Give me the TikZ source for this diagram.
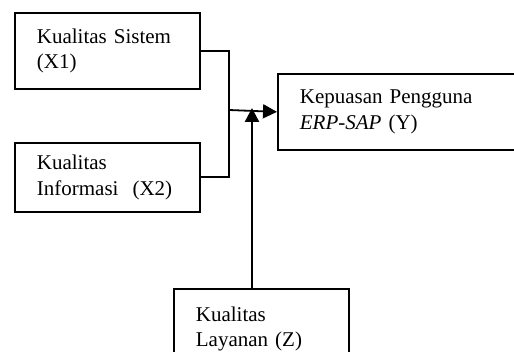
\documentclass[tikz,border=0pt]{standalone}
\usepackage{fontspec}
\setmainfont{Liberation Serif}
\usetikzlibrary{arrows.meta}

\begin{document}
\begin{tikzpicture}[x=1pt,y=1pt,
	box/.style={draw, line width=1.8pt, anchor=north west, align=left, inner xsep=22pt, inner ysep=0pt,
		font=\fontsize{21}{25.5}\selectfont},
	link/.style={line width=1.8pt},
	arrow/.style={line width=1.8pt, -{Triangle[length=14pt,width=14pt]}}]
	\useasboundingbox (0,0) rectangle (514,-352);
	\clip (0,0) rectangle (514,-352);
	\node[box, text width=141pt, minimum height=76pt] (sistem) at (14,-12) {Kualitas Sistem\\(X1)};
	\node[box, text width=141pt, minimum height=69pt] (informasi) at (14,-142) {Kualitas\\Informasi\ \ (X2)};
	\node[box, text width=206pt, minimum height=76pt] (kepuasan) at (277,-73) {Kepuasan Pengguna\\\textit{ERP-SAP} (Y)};
	\node[box, text width=131pt, minimum height=80pt] (layanan) at (173,-288) {Kualitas\\Layanan (Z)};
	\coordinate (j) at (229,-110);
	\coordinate (z) at (252,-108);
	\draw[link] (sistem.east) -| (j) |- (informasi.east);
	\draw[arrow] (j) -- (kepuasan.west);
	\draw[arrow, line width=2.4pt] (layanan.north -| z) -- (z);
\end{tikzpicture}
\end{document}
